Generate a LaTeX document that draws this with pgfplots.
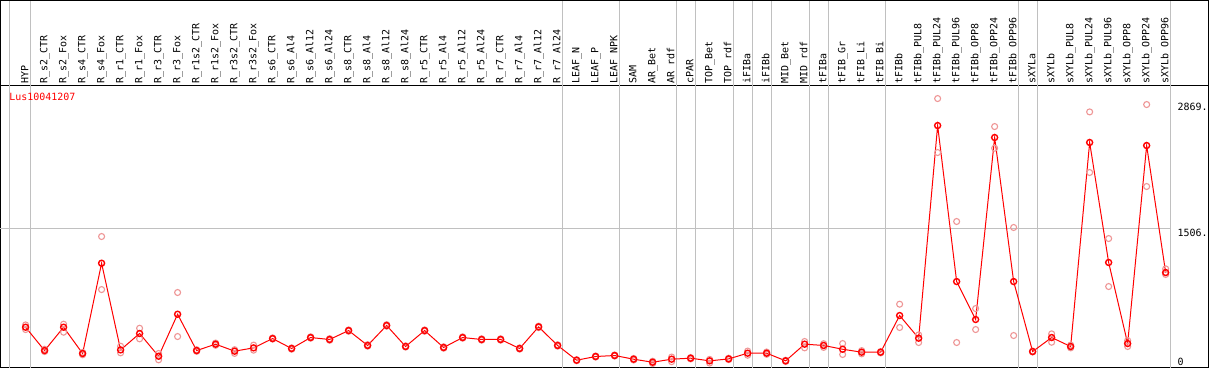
\documentclass[border=0pt]{standalone}
\usepackage{pgfplots}
\pgfplotsset{compat=1.18}
\usepackage{pgfplotstable}
\usepackage{fontspec}
\setmainfont{DejaVu Sans Mono}
\definecolor{gridgray}{RGB}{192,192,192}
\definecolor{repred}{RGB}{238,150,150}
\definecolor{mainred}{RGB}{255,0,0}

\pgfplotstableread{
x y
0 434
1 181
2 434
3 149
4 1129
5 188
6 366
7 119
8 575
9 181
10 250
11 174
12 210
13 311
14 203
15 322
16 301
17 398
18 236
19 453
20 225
21 398
22 214
23 322
24 301
25 301
26 203
27 438
28 236
29 76
30 116
31 127
32 87
33 54
34 87
35 98
36 69
37 90
38 152
39 152
40 69
41 250
42 236
43 195
44 163
45 163
46 561
47 315
48 2624
49 930
50 518
51 2494
52 930
53 170
54 322
55 225
56 2440
57 1137
58 257
59 2407
60 1028
}\meandata

\pgfplotstableread{
x y
0 459
0 409
1 195
1 170
2 467
2 380
3 160
3 135
4 1419
4 843
5 228
5 156
6 423
6 308
7 149
7 80
8 811
8 333
9 190
9 172
10 262
10 238
11 190
11 150
12 240
12 185
13 318
13 305
14 210
14 195
15 330
15 315
16 310
16 292
17 405
17 390
18 245
18 228
19 462
19 445
20 232
20 218
21 405
21 390
22 222
22 206
23 330
23 315
24 309
24 293
25 309
25 293
26 210
26 196
27 446
27 430
28 244
28 228
29 82
29 70
30 122
30 110
31 133
31 121
32 95
32 78
33 65
33 40
34 110
34 60
35 105
35 90
36 85
36 45
37 98
37 82
38 175
38 130
39 165
39 140
40 76
40 62
41 279
41 210
42 255
42 215
43 257
43 138
44 180
44 145
45 170
45 155
46 684
46 431
47 351
47 268
48 2917
48 2331
49 1582
49 268
50 637
50 409
51 2613
51 2378
52 1517
52 344
53 175
53 165
54 362
54 271
55 240
55 210
56 2772
56 2114
57 1397
57 876
58 290
58 225
59 2852
59 1962
60 1068
60 1007
}\repdata

\begin{document}
\begin{tikzpicture}[x=1bp,y=1bp]
\useasboundingbox (0,0) rectangle (1209,370);
\begin{axis}[
  at={(0.5,2.5)}, anchor=south west,
  scale only axis, width=1208bp, height=282.5bp,
  xmin=-1.342, xmax=62.237, ymin=-5.43, ymax=3062,
  clip=false,
  axis line style={black, line width=1bp},
  major tick length=0pt,
  xtick={0,...,60},
  xticklabels={HYP, R\_s2\_CTR, R\_s2\_Fox, R\_s4\_CTR, R\_s4\_Fox, R\_r1\_CTR, R\_r1\_Fox, R\_r3\_CTR, R\_r3\_Fox, R\_r1s2\_CTR, R\_r1s2\_Fox, R\_r3s2\_CTR, R\_r3s2\_Fox, R\_s6\_CTR, R\_s6\_Al4, R\_s6\_Al12, R\_s6\_Al24, R\_s8\_CTR, R\_s8\_Al4, R\_s8\_Al12, R\_s8\_Al24, R\_r5\_CTR, R\_r5\_Al4, R\_r5\_Al12, R\_r5\_Al24, R\_r7\_CTR, R\_r7\_Al4, R\_r7\_Al12, R\_r7\_Al24, LEAF\_N, LEAF\_P, LEAF\_NPK, SAM, AR\_Bet, AR\_rdf, cPAR, TOP\_Bet, TOP\_rdf, iFIBa, iFIBb, MID\_Bet, MID\_rdf, tFIBa, tFIB\_Gr, tFIB\_Li, tFIB\_Bi, tFIBb, tFIBb\_PUL8, tFIBb\_PUL24, tFIBb\_PUL96, tFIBb\_OPP8, tFIBb\_OPP24, tFIBb\_OPP96, sXYLa, sXYLb, sXYLb\_PUL8, sXYLb\_PUL24, sXYLb\_PUL96, sXYLb\_OPP8, sXYLb\_OPP24, sXYLb\_OPP96},
  xticklabel pos=right,
  xtick style={draw=none},
  xticklabel style={rotate=90, anchor=west, font=\fontsize{10}{12}\selectfont, inner xsep=1.5bp, inner ysep=0pt, text height=7.5bp, text depth=2bp},
  ytick={1506,2869},
  yticklabels={1506.,2869.},
  yticklabel pos=right,
  ytick style={draw=none},
  yticklabel style={anchor=north west, inner sep=0pt, xshift=-30.8bp, font=\fontsize{10}{12}\selectfont},
  extra y ticks={0},
  extra y tick labels={0},
  extra y tick style={yticklabel style={anchor=south west, yshift=1.7bp}},
]
\pgfplotsinvokeforeach{-0.842,0.237,28.237,31.237,34.237,35.237,37.237,38.237,39.237,41.237,42.237,45.237,52.237,53.237,60.237}{
  \draw[gridgray, line width=1bp] (axis cs:#1,-5.43) -- (axis cs:#1,3985);
}
\draw[gridgray, line width=1bp] (axis cs:-1.342,1506) -- (axis cs:60.237,1506);
\addplot[only marks, mark=o, mark size=3bp, repred, mark options={line width=1.1bp}] table[x=x,y=y] {\repdata};
\addplot[mainred, line width=1bp, mark=o, mark size=3bp, mark options={line width=1.4bp}] table[x=x,y=y] {\meandata};
\end{axis}
\draw[black, line width=1bp] (0.5,285) -- (0.5,369.5) -- (1208.5,369.5) -- (1208.5,285);
\node[anchor=north west, inner sep=0pt, text=red, font=\fontsize{10}{12}\selectfont] at (9.3,276.7) {Lus10041207};
\end{tikzpicture}
\end{document}
